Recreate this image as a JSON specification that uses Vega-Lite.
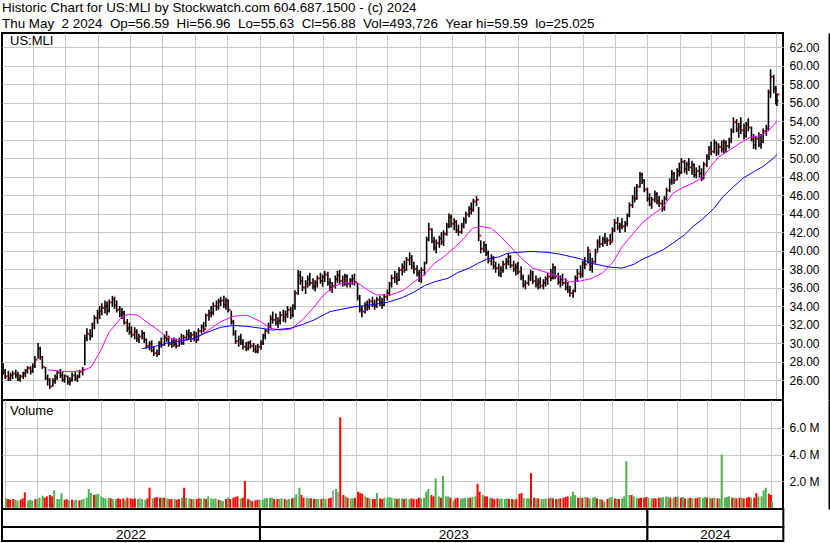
{
"$schema":"https://vega.github.io/schema/vega-lite/v6.json",
"background":"white",
"padding":{"left":0,"top":0,"right":0,"bottom":0},
"spacing":0,
"bounds":"flush",
"title":{"text":["Historic Chart for US:MLI by Stockwatch.com 604.687.1500 - (c) 2024","Thu May\u00a0\u00a02 2024\u00a0\u00a0Op=56.59\u00a0\u00a0Hi=56.96\u00a0\u00a0Lo=55.63\u00a0\u00a0Cl=56.88\u00a0\u00a0Vol=493,726\u00a0\u00a0Year hi=59.59\u00a0\u00a0lo=25.025"],"anchor":"start","frame":"bounds","font":"Liberation Sans","fontSize":13.4,"fontWeight":"normal","color":"black","lineHeight":15.7,"offset":2,"dx":2},
"datasets":{
"px":[
{"d":"2022-05-02","h":28.2,"l":26.8,"c":27.6,"v":0.7,"u":"g"},
{"d":"2022-05-04","h":27.8,"l":26.6,"c":26.9,"v":0.65,"u":"r"},
{"d":"2022-05-06","h":27.2,"l":26.1,"c":26.4,"v":0.6,"u":"r"},
{"d":"2022-05-09","h":27.0,"l":25.9,"c":26.2,"v":0.65,"u":"r"},
{"d":"2022-05-11","h":26.8,"l":25.9,"c":26.5,"v":0.6,"u":"g"},
{"d":"2022-05-13","h":27.0,"l":26.1,"c":26.7,"v":0.55,"u":"g"},
{"d":"2022-05-16","h":27.1,"l":26.2,"c":26.5,"v":0.6,"u":"r"},
{"d":"2022-05-18","h":26.9,"l":25.9,"c":26.1,"v":0.7,"u":"r"},
{"d":"2022-05-20","h":26.6,"l":25.8,"c":26.4,"v":1.15,"u":"r"},
{"d":"2022-05-23","h":26.9,"l":26.1,"c":26.7,"v":0.55,"u":"g"},
{"d":"2022-05-25","h":27.2,"l":26.3,"c":27.0,"v":0.6,"u":"g"},
{"d":"2022-05-27","h":27.5,"l":26.7,"c":27.3,"v":0.55,"u":"g"},
{"d":"2022-05-30","h":27.5,"l":26.6,"c":26.9,"v":0.65,"u":"r"},
{"d":"2022-06-01","h":27.8,"l":26.8,"c":27.5,"v":0.65,"u":"g"},
{"d":"2022-06-03","h":28.6,"l":27.3,"c":28.2,"v":0.75,"u":"g"},
{"d":"2022-06-06","h":30.0,"l":28.3,"c":29.4,"v":0.9,"u":"g"},
{"d":"2022-06-08","h":29.6,"l":28.2,"c":28.5,"v":0.75,"u":"r"},
{"d":"2022-06-10","h":28.6,"l":27.2,"c":27.4,"v":0.85,"u":"r"},
{"d":"2022-06-13","h":27.4,"l":26.0,"c":26.2,"v":0.95,"u":"r"},
{"d":"2022-06-15","h":26.6,"l":25.4,"c":26.0,"v":0.85,"u":"r"},
{"d":"2022-06-17","h":26.2,"l":25.03,"c":25.3,"v":1.3,"u":"g"},
{"d":"2022-06-20","h":26.2,"l":25.3,"c":25.9,"v":0.65,"u":"g"},
{"d":"2022-06-22","h":26.6,"l":25.6,"c":26.3,"v":0.65,"u":"g"},
{"d":"2022-06-24","h":27.0,"l":26.0,"c":26.8,"v":1.1,"u":"g"},
{"d":"2022-06-27","h":27.2,"l":26.2,"c":26.5,"v":0.6,"u":"r"},
{"d":"2022-06-29","h":26.9,"l":25.8,"c":26.0,"v":0.65,"u":"r"},
{"d":"2022-07-01","h":26.6,"l":25.7,"c":26.4,"v":0.55,"u":"g"},
{"d":"2022-07-04","h":26.5,"l":25.5,"c":25.8,"v":0.6,"u":"r"},
{"d":"2022-07-06","h":26.3,"l":25.4,"c":26.0,"v":0.55,"u":"n"},
{"d":"2022-07-08","h":26.8,"l":25.8,"c":26.5,"v":0.6,"u":"g"},
{"d":"2022-07-11","h":26.9,"l":25.9,"c":26.2,"v":0.55,"u":"r"},
{"d":"2022-07-13","h":26.6,"l":25.8,"c":26.4,"v":0.6,"u":"g"},
{"d":"2022-07-15","h":27.1,"l":26.2,"c":26.9,"v":0.65,"u":"g"},
{"d":"2022-07-18","h":27.4,"l":26.5,"c":27.1,"v":0.75,"u":"g"},
{"d":"2022-07-20","h":30.9,"l":27.6,"c":30.5,"v":1.4,"u":"g"},
{"d":"2022-07-22","h":31.6,"l":30.2,"c":31.0,"v":1.1,"u":"g"},
{"d":"2022-07-25","h":31.5,"l":30.3,"c":30.8,"v":0.95,"u":"r"},
{"d":"2022-07-27","h":32.2,"l":30.6,"c":31.9,"v":1.0,"u":"g"},
{"d":"2022-07-29","h":33.0,"l":31.5,"c":32.7,"v":1.05,"u":"g"},
{"d":"2022-08-01","h":33.6,"l":32.1,"c":33.2,"v":0.85,"u":"g"},
{"d":"2022-08-03","h":34.0,"l":32.6,"c":33.4,"v":0.75,"u":"g"},
{"d":"2022-08-05","h":34.3,"l":33.0,"c":33.8,"v":0.7,"u":"g"},
{"d":"2022-08-08","h":34.6,"l":33.2,"c":34.0,"v":0.75,"u":"g"},
{"d":"2022-08-10","h":34.5,"l":33.0,"c":33.5,"v":0.7,"u":"r"},
{"d":"2022-08-12","h":34.7,"l":33.3,"c":34.4,"v":0.65,"u":"g"},
{"d":"2022-08-15","h":35.1,"l":33.9,"c":34.7,"v":0.65,"u":"g"},
{"d":"2022-08-17","h":35.0,"l":33.7,"c":34.1,"v":0.7,"u":"r"},
{"d":"2022-08-19","h":34.6,"l":33.3,"c":33.6,"v":0.65,"u":"r"},
{"d":"2022-08-22","h":34.0,"l":32.8,"c":33.1,"v":0.7,"u":"r"},
{"d":"2022-08-24","h":33.8,"l":32.6,"c":33.3,"v":0.6,"u":"g"},
{"d":"2022-08-26","h":33.5,"l":32.0,"c":32.2,"v":0.75,"u":"r"},
{"d":"2022-08-29","h":32.6,"l":31.2,"c":31.6,"v":0.7,"u":"r"},
{"d":"2022-08-31","h":32.2,"l":30.9,"c":31.2,"v":0.65,"u":"r"},
{"d":"2022-09-02","h":31.8,"l":30.6,"c":30.9,"v":0.7,"u":"r"},
{"d":"2022-09-05","h":31.7,"l":30.4,"c":31.2,"v":0.65,"u":"g"},
{"d":"2022-09-07","h":31.5,"l":30.1,"c":30.4,"v":0.7,"u":"n"},
{"d":"2022-09-09","h":31.0,"l":30.0,"c":30.7,"v":0.65,"u":"g"},
{"d":"2022-09-12","h":31.4,"l":30.4,"c":31.1,"v":0.6,"u":"g"},
{"d":"2022-09-14","h":31.2,"l":30.0,"c":30.3,"v":0.7,"u":"r"},
{"d":"2022-09-16","h":30.5,"l":29.4,"c":29.7,"v":1.5,"u":"r"},
{"d":"2022-09-19","h":30.2,"l":29.2,"c":29.9,"v":0.7,"u":"g"},
{"d":"2022-09-21","h":30.3,"l":29.0,"c":29.2,"v":0.75,"u":"r"},
{"d":"2022-09-23","h":29.6,"l":28.6,"c":28.9,"v":0.8,"u":"r"},
{"d":"2022-09-26","h":29.3,"l":28.5,"c":28.8,"v":0.75,"u":"r"},
{"d":"2022-09-28","h":30.2,"l":28.7,"c":30.0,"v":0.75,"u":"g"},
{"d":"2022-09-30","h":30.6,"l":29.5,"c":29.8,"v":0.75,"u":"r"},
{"d":"2022-10-03","h":30.9,"l":29.7,"c":30.6,"v":0.7,"u":"g"},
{"d":"2022-10-05","h":31.3,"l":30.1,"c":30.4,"v":0.65,"u":"r"},
{"d":"2022-10-07","h":30.8,"l":29.6,"c":29.9,"v":0.65,"u":"r"},
{"d":"2022-10-10","h":30.4,"l":29.5,"c":30.1,"v":0.65,"u":"g"},
{"d":"2022-10-12","h":30.6,"l":29.6,"c":29.9,"v":0.6,"u":"r"},
{"d":"2022-10-14","h":30.5,"l":29.4,"c":29.7,"v":0.65,"u":"r"},
{"d":"2022-10-17","h":30.6,"l":29.6,"c":30.3,"v":0.75,"u":"g"},
{"d":"2022-10-19","h":31.0,"l":29.8,"c":30.0,"v":1.5,"u":"r"},
{"d":"2022-10-21","h":30.9,"l":29.8,"c":30.6,"v":0.75,"u":"g"},
{"d":"2022-10-24","h":31.4,"l":30.3,"c":31.0,"v":0.7,"u":"g"},
{"d":"2022-10-26","h":31.5,"l":30.4,"c":30.7,"v":0.65,"u":"r"},
{"d":"2022-10-28","h":31.2,"l":30.1,"c":30.9,"v":0.65,"u":"g"},
{"d":"2022-10-31","h":31.3,"l":30.2,"c":30.5,"v":0.65,"u":"r"},
{"d":"2022-11-02","h":31.2,"l":30.0,"c":30.3,"v":0.7,"u":"r"},
{"d":"2022-11-04","h":31.6,"l":30.3,"c":31.3,"v":0.7,"u":"g"},
{"d":"2022-11-07","h":32.0,"l":31.0,"c":31.8,"v":0.7,"u":"g"},
{"d":"2022-11-09","h":32.3,"l":31.2,"c":31.5,"v":0.65,"u":"r"},
{"d":"2022-11-11","h":33.2,"l":31.7,"c":33.0,"v":0.85,"u":"g"},
{"d":"2022-11-14","h":33.6,"l":32.4,"c":33.2,"v":0.7,"u":"g"},
{"d":"2022-11-16","h":34.0,"l":32.8,"c":33.3,"v":0.65,"u":"g"},
{"d":"2022-11-18","h":34.4,"l":33.0,"c":34.0,"v":0.7,"u":"g"},
{"d":"2022-11-21","h":34.6,"l":33.5,"c":33.9,"v":0.6,"u":"r"},
{"d":"2022-11-23","h":34.8,"l":33.6,"c":34.5,"v":0.55,"u":"g"},
{"d":"2022-11-25","h":35.0,"l":34.0,"c":34.6,"v":0.5,"u":"g"},
{"d":"2022-11-28","h":35.1,"l":33.8,"c":34.1,"v":0.65,"u":"r"},
{"d":"2022-11-30","h":34.9,"l":33.6,"c":34.6,"v":0.75,"u":"g"},
{"d":"2022-12-02","h":34.7,"l":33.3,"c":33.6,"v":0.65,"u":"r"},
{"d":"2022-12-05","h":33.5,"l":32.0,"c":32.3,"v":0.75,"u":"r"},
{"d":"2022-12-07","h":32.5,"l":30.8,"c":31.0,"v":0.8,"u":"r"},
{"d":"2022-12-09","h":31.4,"l":29.9,"c":30.2,"v":0.85,"u":"r"},
{"d":"2022-12-12","h":30.8,"l":29.6,"c":30.4,"v":0.7,"u":"g"},
{"d":"2022-12-14","h":31.0,"l":29.8,"c":30.0,"v":0.75,"u":"r"},
{"d":"2022-12-16","h":30.4,"l":29.3,"c":29.6,"v":2.0,"u":"r"},
{"d":"2022-12-19","h":30.1,"l":29.1,"c":29.4,"v":0.65,"u":"r"},
{"d":"2022-12-21","h":30.2,"l":29.2,"c":30.0,"v":0.6,"u":"g"},
{"d":"2022-12-23","h":30.3,"l":29.4,"c":29.7,"v":0.5,"u":"r"},
{"d":"2022-12-26","h":30.0,"l":29.0,"c":29.3,"v":0.55,"u":"r"},
{"d":"2022-12-28","h":29.8,"l":28.9,"c":29.1,"v":0.6,"u":"r"},
{"d":"2022-12-30","h":29.9,"l":28.9,"c":29.6,"v":0.6,"u":"g"},
{"d":"2023-01-02","h":30.3,"l":29.3,"c":30.0,"v":0.6,"u":"g"},
{"d":"2023-01-04","h":31.0,"l":29.8,"c":30.8,"v":0.7,"u":"g"},
{"d":"2023-01-06","h":31.5,"l":30.4,"c":31.3,"v":0.75,"u":"g"},
{"d":"2023-01-09","h":32.2,"l":31.0,"c":31.8,"v":0.75,"u":"g"},
{"d":"2023-01-11","h":33.0,"l":31.6,"c":32.6,"v":0.75,"u":"g"},
{"d":"2023-01-13","h":33.4,"l":32.1,"c":32.5,"v":0.65,"u":"r"},
{"d":"2023-01-16","h":33.2,"l":31.9,"c":32.2,"v":0.65,"u":"r"},
{"d":"2023-01-18","h":32.8,"l":31.6,"c":32.4,"v":0.65,"u":"g"},
{"d":"2023-01-20","h":33.4,"l":32.0,"c":33.0,"v":0.7,"u":"g"},
{"d":"2023-01-23","h":33.6,"l":32.3,"c":32.8,"v":0.65,"u":"r"},
{"d":"2023-01-25","h":33.5,"l":32.2,"c":33.1,"v":0.6,"u":"g"},
{"d":"2023-01-27","h":34.0,"l":32.7,"c":33.6,"v":0.65,"u":"g"},
{"d":"2023-01-30","h":33.9,"l":32.6,"c":33.0,"v":0.7,"u":"r"},
{"d":"2023-02-01","h":34.2,"l":32.8,"c":34.0,"v":0.75,"u":"g"},
{"d":"2023-02-03","h":35.7,"l":33.6,"c":35.4,"v":1.0,"u":"g"},
{"d":"2023-02-06","h":37.9,"l":35.2,"c":37.3,"v":1.5,"u":"g"},
{"d":"2023-02-08","h":37.8,"l":36.3,"c":36.7,"v":0.95,"u":"r"},
{"d":"2023-02-10","h":37.2,"l":35.6,"c":36.0,"v":0.75,"u":"r"},
{"d":"2023-02-13","h":36.8,"l":35.3,"c":36.4,"v":0.75,"u":"g"},
{"d":"2023-02-15","h":37.3,"l":36.0,"c":36.9,"v":0.7,"u":"g"},
{"d":"2023-02-17","h":37.6,"l":36.2,"c":36.5,"v":0.7,"u":"r"},
{"d":"2023-02-20","h":37.0,"l":35.8,"c":36.1,"v":0.65,"u":"r"},
{"d":"2023-02-22","h":36.8,"l":35.6,"c":36.5,"v":0.65,"u":"g"},
{"d":"2023-02-24","h":37.3,"l":36.0,"c":37.0,"v":0.65,"u":"g"},
{"d":"2023-02-27","h":37.6,"l":36.4,"c":36.7,"v":0.65,"u":"r"},
{"d":"2023-03-01","h":37.4,"l":36.1,"c":37.1,"v":0.7,"u":"g"},
{"d":"2023-03-03","h":37.8,"l":36.6,"c":37.4,"v":0.65,"u":"g"},
{"d":"2023-03-06","h":37.7,"l":36.2,"c":36.5,"v":0.7,"u":"r"},
{"d":"2023-03-08","h":37.0,"l":35.6,"c":36.0,"v":0.75,"u":"r"},
{"d":"2023-03-10","h":36.6,"l":35.4,"c":36.2,"v":1.3,"u":"n"},
{"d":"2023-03-13","h":37.3,"l":35.9,"c":36.9,"v":1.4,"u":"g"},
{"d":"2023-03-15","h":37.8,"l":36.5,"c":37.3,"v":1.2,"u":"n"},
{"d":"2023-03-17","h":37.9,"l":36.4,"c":36.7,"v":6.8,"u":"r"},
{"d":"2023-03-20","h":37.3,"l":36.1,"c":36.5,"v":0.95,"u":"r"},
{"d":"2023-03-22","h":37.5,"l":36.2,"c":37.2,"v":0.85,"u":"g"},
{"d":"2023-03-24","h":37.4,"l":36.0,"c":36.4,"v":0.75,"u":"r"},
{"d":"2023-03-27","h":37.0,"l":36.0,"c":36.8,"v":0.7,"u":"g"},
{"d":"2023-03-29","h":37.4,"l":36.3,"c":37.0,"v":0.7,"u":"g"},
{"d":"2023-03-31","h":37.5,"l":36.2,"c":36.6,"v":0.75,"u":"r"},
{"d":"2023-04-03","h":36.5,"l":34.6,"c":34.9,"v":1.2,"u":"r"},
{"d":"2023-04-05","h":35.2,"l":33.3,"c":33.6,"v":1.1,"u":"r"},
{"d":"2023-04-07","h":34.0,"l":32.8,"c":33.4,"v":1.05,"u":"r"},
{"d":"2023-04-10","h":34.4,"l":33.2,"c":34.1,"v":0.85,"u":"g"},
{"d":"2023-04-12","h":34.6,"l":33.5,"c":33.9,"v":0.75,"u":"r"},
{"d":"2023-04-14","h":34.8,"l":33.6,"c":34.5,"v":0.7,"u":"g"},
{"d":"2023-04-17","h":35.0,"l":33.9,"c":34.2,"v":0.65,"u":"r"},
{"d":"2023-04-19","h":34.7,"l":33.6,"c":34.0,"v":0.65,"u":"r"},
{"d":"2023-04-21","h":35.0,"l":33.8,"c":34.7,"v":1.1,"u":"g"},
{"d":"2023-04-24","h":35.1,"l":34.0,"c":34.4,"v":0.7,"u":"r"},
{"d":"2023-04-26","h":34.9,"l":33.7,"c":34.1,"v":0.65,"u":"r"},
{"d":"2023-04-28","h":35.3,"l":34.0,"c":35.0,"v":0.75,"u":"g"},
{"d":"2023-05-01","h":35.8,"l":34.6,"c":35.4,"v":0.75,"u":"g"},
{"d":"2023-05-03","h":36.6,"l":35.1,"c":36.3,"v":0.8,"u":"g"},
{"d":"2023-05-05","h":37.4,"l":36.0,"c":37.0,"v":0.75,"u":"g"},
{"d":"2023-05-08","h":37.8,"l":36.5,"c":37.1,"v":0.7,"u":"g"},
{"d":"2023-05-10","h":37.6,"l":36.3,"c":36.8,"v":0.65,"u":"r"},
{"d":"2023-05-12","h":38.2,"l":36.7,"c":37.9,"v":0.7,"u":"g"},
{"d":"2023-05-15","h":38.6,"l":37.3,"c":38.2,"v":0.7,"u":"g"},
{"d":"2023-05-17","h":38.9,"l":37.6,"c":37.9,"v":0.65,"u":"r"},
{"d":"2023-05-19","h":39.3,"l":37.8,"c":39.0,"v":0.7,"u":"g"},
{"d":"2023-05-22","h":39.8,"l":38.4,"c":39.2,"v":0.65,"u":"g"},
{"d":"2023-05-24","h":39.5,"l":38.0,"c":38.3,"v":0.7,"u":"r"},
{"d":"2023-05-26","h":38.8,"l":37.5,"c":38.0,"v":0.65,"u":"r"},
{"d":"2023-05-29","h":38.4,"l":37.2,"c":37.5,"v":0.65,"u":"r"},
{"d":"2023-05-31","h":37.9,"l":36.6,"c":37.0,"v":0.75,"u":"r"},
{"d":"2023-06-02","h":38.2,"l":36.5,"c":37.9,"v":0.7,"u":"g"},
{"d":"2023-06-05","h":38.8,"l":37.3,"c":38.6,"v":0.75,"u":"g"},
{"d":"2023-06-07","h":41.5,"l":38.6,"c":41.2,"v":1.2,"u":"g"},
{"d":"2023-06-09","h":43.0,"l":41.0,"c":42.3,"v":1.4,"u":"g"},
{"d":"2023-06-12","h":42.4,"l":40.8,"c":41.0,"v":0.95,"u":"r"},
{"d":"2023-06-14","h":41.5,"l":40.0,"c":40.3,"v":0.85,"u":"r"},
{"d":"2023-06-16","h":41.2,"l":39.7,"c":40.8,"v":2.2,"u":"g"},
{"d":"2023-06-19","h":41.6,"l":40.3,"c":41.3,"v":0.85,"u":"g"},
{"d":"2023-06-21","h":42.0,"l":40.6,"c":40.9,"v":0.75,"u":"r"},
{"d":"2023-06-23","h":42.2,"l":40.5,"c":41.8,"v":2.4,"u":"g"},
{"d":"2023-06-26","h":43.0,"l":41.6,"c":42.7,"v":0.85,"u":"g"},
{"d":"2023-06-28","h":44.0,"l":42.4,"c":43.6,"v":0.85,"u":"g"},
{"d":"2023-06-30","h":43.9,"l":42.5,"c":42.9,"v":0.75,"u":"r"},
{"d":"2023-07-03","h":43.5,"l":42.2,"c":43.1,"v":0.55,"u":"g"},
{"d":"2023-07-05","h":43.3,"l":41.9,"c":42.2,"v":0.7,"u":"r"},
{"d":"2023-07-07","h":42.8,"l":41.6,"c":42.0,"v":0.75,"u":"r"},
{"d":"2023-07-10","h":43.0,"l":41.8,"c":42.7,"v":0.7,"u":"g"},
{"d":"2023-07-12","h":43.6,"l":42.4,"c":43.3,"v":0.7,"u":"g"},
{"d":"2023-07-14","h":44.2,"l":42.9,"c":43.9,"v":0.75,"u":"g"},
{"d":"2023-07-17","h":44.8,"l":43.6,"c":44.5,"v":0.75,"u":"g"},
{"d":"2023-07-19","h":45.2,"l":43.9,"c":44.4,"v":0.75,"u":"r"},
{"d":"2023-07-21","h":45.6,"l":44.2,"c":45.3,"v":0.8,"u":"g"},
{"d":"2023-07-24","h":45.9,"l":44.8,"c":45.5,"v":0.85,"u":"g"},
{"d":"2023-07-26","h":44.7,"l":41.0,"c":41.6,"v":1.8,"u":"r"},
{"d":"2023-07-28","h":41.1,"l":39.7,"c":40.2,"v":1.2,"u":"r"},
{"d":"2023-07-31","h":41.0,"l":39.8,"c":40.6,"v":0.95,"u":"g"},
{"d":"2023-08-02","h":40.7,"l":39.4,"c":39.7,"v":0.85,"u":"r"},
{"d":"2023-08-04","h":40.0,"l":38.6,"c":38.9,"v":0.85,"u":"r"},
{"d":"2023-08-07","h":39.6,"l":38.4,"c":39.2,"v":0.75,"u":"g"},
{"d":"2023-08-09","h":39.4,"l":38.0,"c":38.3,"v":0.7,"u":"r"},
{"d":"2023-08-11","h":38.8,"l":37.6,"c":38.1,"v":0.65,"u":"r"},
{"d":"2023-08-14","h":38.6,"l":37.2,"c":37.5,"v":0.7,"u":"r"},
{"d":"2023-08-16","h":38.3,"l":37.1,"c":37.9,"v":0.65,"u":"g"},
{"d":"2023-08-18","h":38.9,"l":37.6,"c":38.5,"v":0.7,"u":"g"},
{"d":"2023-08-21","h":39.2,"l":38.0,"c":38.8,"v":0.65,"u":"g"},
{"d":"2023-08-23","h":39.7,"l":38.4,"c":39.3,"v":0.7,"u":"g"},
{"d":"2023-08-25","h":39.5,"l":38.1,"c":38.4,"v":0.65,"u":"r"},
{"d":"2023-08-28","h":38.9,"l":37.7,"c":38.0,"v":0.65,"u":"r"},
{"d":"2023-08-30","h":38.6,"l":37.3,"c":38.2,"v":0.6,"u":"g"},
{"d":"2023-09-01","h":38.8,"l":37.4,"c":37.7,"v":0.65,"u":"r"},
{"d":"2023-09-04","h":38.3,"l":36.8,"c":37.1,"v":1.05,"u":"r"},
{"d":"2023-09-06","h":37.4,"l":36.0,"c":36.3,"v":1.1,"u":"r"},
{"d":"2023-09-08","h":36.8,"l":35.8,"c":36.5,"v":0.75,"u":"g"},
{"d":"2023-09-11","h":37.4,"l":36.2,"c":37.0,"v":0.7,"u":"g"},
{"d":"2023-09-13","h":37.9,"l":36.7,"c":37.5,"v":0.7,"u":"g"},
{"d":"2023-09-15","h":37.8,"l":36.4,"c":36.7,"v":2.6,"u":"r"},
{"d":"2023-09-18","h":37.3,"l":36.0,"c":36.3,"v":0.75,"u":"r"},
{"d":"2023-09-20","h":37.0,"l":35.8,"c":36.6,"v":0.7,"u":"g"},
{"d":"2023-09-22","h":37.1,"l":35.9,"c":36.2,"v":0.7,"u":"r"},
{"d":"2023-09-25","h":36.9,"l":35.8,"c":36.5,"v":0.65,"u":"g"},
{"d":"2023-09-27","h":37.2,"l":36.1,"c":36.9,"v":0.65,"u":"g"},
{"d":"2023-09-29","h":37.6,"l":36.3,"c":37.2,"v":0.7,"u":"g"},
{"d":"2023-10-02","h":38.0,"l":36.7,"c":37.0,"v":0.7,"u":"r"},
{"d":"2023-10-04","h":38.6,"l":36.9,"c":38.2,"v":0.75,"u":"g"},
{"d":"2023-10-06","h":38.3,"l":36.9,"c":37.2,"v":0.7,"u":"r"},
{"d":"2023-10-09","h":37.6,"l":36.3,"c":36.6,"v":0.65,"u":"r"},
{"d":"2023-10-11","h":37.3,"l":36.0,"c":36.9,"v":0.65,"u":"g"},
{"d":"2023-10-13","h":37.5,"l":36.2,"c":36.5,"v":0.7,"u":"r"},
{"d":"2023-10-16","h":37.0,"l":35.7,"c":36.0,"v":0.75,"u":"r"},
{"d":"2023-10-18","h":36.6,"l":35.4,"c":35.7,"v":0.8,"u":"r"},
{"d":"2023-10-20","h":36.2,"l":35.0,"c":35.4,"v":0.85,"u":"r"},
{"d":"2023-10-23","h":35.8,"l":34.9,"c":35.6,"v":0.85,"u":"g"},
{"d":"2023-10-25","h":37.3,"l":35.5,"c":37.0,"v":1.2,"u":"g"},
{"d":"2023-10-27","h":38.0,"l":36.6,"c":37.5,"v":0.95,"u":"g"},
{"d":"2023-10-30","h":38.4,"l":37.0,"c":37.4,"v":0.75,"u":"r"},
{"d":"2023-11-01","h":38.9,"l":37.1,"c":38.6,"v":0.75,"u":"g"},
{"d":"2023-11-03","h":39.3,"l":38.0,"c":38.5,"v":0.75,"u":"r"},
{"d":"2023-11-06","h":40.4,"l":38.6,"c":40.0,"v":0.8,"u":"g"},
{"d":"2023-11-08","h":39.8,"l":37.8,"c":38.3,"v":0.75,"u":"r"},
{"d":"2023-11-10","h":39.2,"l":37.6,"c":38.8,"v":0.7,"u":"g"},
{"d":"2023-11-13","h":40.2,"l":38.6,"c":39.8,"v":0.75,"u":"g"},
{"d":"2023-11-15","h":41.2,"l":39.9,"c":40.9,"v":0.8,"u":"g"},
{"d":"2023-11-17","h":41.6,"l":40.3,"c":40.7,"v":0.7,"u":"r"},
{"d":"2023-11-20","h":41.5,"l":40.4,"c":41.2,"v":0.65,"u":"g"},
{"d":"2023-11-22","h":41.9,"l":40.7,"c":41.0,"v":0.6,"u":"r"},
{"d":"2023-11-24","h":41.4,"l":40.5,"c":41.1,"v":0.45,"u":"g"},
{"d":"2023-11-27","h":41.8,"l":40.6,"c":40.9,"v":0.65,"u":"r"},
{"d":"2023-11-29","h":42.5,"l":41.0,"c":42.2,"v":0.75,"u":"g"},
{"d":"2023-12-01","h":43.4,"l":42.0,"c":43.0,"v":0.8,"u":"g"},
{"d":"2023-12-04","h":43.6,"l":42.2,"c":42.5,"v":0.7,"u":"r"},
{"d":"2023-12-06","h":43.0,"l":41.9,"c":42.7,"v":0.65,"u":"g"},
{"d":"2023-12-08","h":43.5,"l":42.3,"c":42.6,"v":0.65,"u":"r"},
{"d":"2023-12-11","h":43.2,"l":42.0,"c":42.9,"v":0.7,"u":"g"},
{"d":"2023-12-13","h":44.0,"l":42.6,"c":43.8,"v":0.85,"u":"g"},
{"d":"2023-12-15","h":45.2,"l":43.6,"c":44.9,"v":3.5,"u":"g"},
{"d":"2023-12-18","h":46.0,"l":44.6,"c":45.7,"v":0.95,"u":"g"},
{"d":"2023-12-20","h":46.9,"l":45.2,"c":45.6,"v":0.95,"u":"r"},
{"d":"2023-12-22","h":47.2,"l":45.5,"c":46.9,"v":0.85,"u":"g"},
{"d":"2023-12-25","h":48.5,"l":46.8,"c":48.2,"v":0.75,"u":"g"},
{"d":"2023-12-27","h":48.4,"l":47.2,"c":47.6,"v":0.7,"u":"r"},
{"d":"2023-12-29","h":47.7,"l":46.3,"c":46.6,"v":0.75,"u":"r"},
{"d":"2024-01-01","h":46.8,"l":45.3,"c":45.6,"v":0.75,"u":"r"},
{"d":"2024-01-03","h":46.2,"l":44.8,"c":45.0,"v":0.8,"u":"r"},
{"d":"2024-01-05","h":45.8,"l":44.5,"c":45.5,"v":0.75,"u":"g"},
{"d":"2024-01-08","h":46.5,"l":45.2,"c":46.1,"v":0.7,"u":"g"},
{"d":"2024-01-10","h":46.3,"l":45.0,"c":45.3,"v":0.7,"u":"r"},
{"d":"2024-01-12","h":45.9,"l":44.7,"c":45.1,"v":0.7,"u":"r"},
{"d":"2024-01-15","h":45.5,"l":44.2,"c":44.6,"v":0.75,"u":"r"},
{"d":"2024-01-17","h":45.9,"l":44.3,"c":45.6,"v":0.75,"u":"g"},
{"d":"2024-01-19","h":46.8,"l":45.4,"c":46.5,"v":0.8,"u":"g"},
{"d":"2024-01-22","h":47.8,"l":46.3,"c":47.4,"v":0.85,"u":"g"},
{"d":"2024-01-24","h":48.7,"l":47.1,"c":48.3,"v":0.8,"u":"g"},
{"d":"2024-01-26","h":48.5,"l":47.2,"c":47.6,"v":0.75,"u":"r"},
{"d":"2024-01-29","h":48.9,"l":47.6,"c":48.6,"v":0.75,"u":"g"},
{"d":"2024-01-31","h":49.5,"l":48.0,"c":48.4,"v":0.8,"u":"r"},
{"d":"2024-02-02","h":50.0,"l":48.3,"c":49.6,"v":0.85,"u":"g"},
{"d":"2024-02-05","h":49.8,"l":48.4,"c":48.8,"v":0.75,"u":"r"},
{"d":"2024-02-07","h":49.6,"l":48.2,"c":49.3,"v":0.8,"u":"g"},
{"d":"2024-02-09","h":50.0,"l":48.6,"c":49.0,"v":0.7,"u":"r"},
{"d":"2024-02-12","h":49.7,"l":48.2,"c":49.3,"v":0.7,"u":"g"},
{"d":"2024-02-14","h":49.4,"l":47.9,"c":48.2,"v":0.75,"u":"r"},
{"d":"2024-02-16","h":49.0,"l":47.8,"c":48.6,"v":0.7,"u":"g"},
{"d":"2024-02-19","h":49.2,"l":47.9,"c":48.3,"v":0.7,"u":"r"},
{"d":"2024-02-21","h":48.9,"l":47.5,"c":47.8,"v":0.75,"u":"r"},
{"d":"2024-02-23","h":49.6,"l":47.7,"c":49.3,"v":0.8,"u":"g"},
{"d":"2024-02-26","h":50.4,"l":49.0,"c":50.1,"v":0.75,"u":"g"},
{"d":"2024-02-28","h":51.3,"l":49.8,"c":51.0,"v":0.8,"u":"g"},
{"d":"2024-03-01","h":51.8,"l":50.3,"c":50.7,"v":0.75,"u":"r"},
{"d":"2024-03-04","h":52.0,"l":50.5,"c":51.6,"v":0.75,"u":"g"},
{"d":"2024-03-06","h":51.8,"l":50.2,"c":50.6,"v":0.7,"u":"r"},
{"d":"2024-03-08","h":51.6,"l":50.3,"c":51.2,"v":0.75,"u":"g"},
{"d":"2024-03-11","h":51.9,"l":50.6,"c":51.0,"v":0.7,"u":"r"},
{"d":"2024-03-13","h":52.0,"l":50.5,"c":51.7,"v":0.7,"u":"g"},
{"d":"2024-03-15","h":51.9,"l":50.6,"c":51.3,"v":4.0,"u":"g"},
{"d":"2024-03-18","h":52.2,"l":51.0,"c":51.9,"v":0.75,"u":"g"},
{"d":"2024-03-20","h":53.2,"l":51.6,"c":52.9,"v":0.8,"u":"g"},
{"d":"2024-03-22","h":54.4,"l":52.7,"c":53.9,"v":0.85,"u":"g"},
{"d":"2024-03-25","h":54.2,"l":52.8,"c":53.1,"v":0.75,"u":"r"},
{"d":"2024-03-27","h":53.8,"l":52.2,"c":53.4,"v":0.75,"u":"g"},
{"d":"2024-03-29","h":54.4,"l":52.6,"c":53.0,"v":0.7,"u":"r"},
{"d":"2024-04-01","h":53.7,"l":52.0,"c":52.4,"v":0.75,"u":"r"},
{"d":"2024-04-03","h":53.9,"l":52.2,"c":53.6,"v":0.75,"u":"g"},
{"d":"2024-04-05","h":54.3,"l":52.9,"c":53.3,"v":0.7,"u":"r"},
{"d":"2024-04-08","h":53.4,"l":51.8,"c":52.0,"v":0.75,"u":"r"},
{"d":"2024-04-10","h":52.6,"l":51.0,"c":51.4,"v":0.8,"u":"r"},
{"d":"2024-04-12","h":52.4,"l":50.9,"c":52.1,"v":0.75,"u":"g"},
{"d":"2024-04-15","h":52.8,"l":51.2,"c":51.5,"v":0.75,"u":"r"},
{"d":"2024-04-17","h":52.6,"l":51.0,"c":51.8,"v":1.1,"u":"r"},
{"d":"2024-04-19","h":53.2,"l":51.6,"c":52.9,"v":0.85,"u":"g"},
{"d":"2024-04-22","h":53.6,"l":52.4,"c":53.2,"v":0.85,"u":"g"},
{"d":"2024-04-24","h":57.4,"l":53.0,"c":57.1,"v":1.3,"u":"g"},
{"d":"2024-04-26","h":59.59,"l":56.5,"c":58.8,"v":1.5,"u":"g"},
{"d":"2024-04-29","h":59.0,"l":57.0,"c":57.5,"v":1.05,"u":"r"},
{"d":"2024-05-01","h":57.8,"l":55.8,"c":56.2,"v":0.95,"u":"r"},
{"d":"2024-05-02","h":56.96,"l":55.63,"c":56.88,"v":0.49,"u":"g"}
],
"m1":[
{"d":"2022-06-15","m":27.1},{"d":"2022-06-24","m":27.0},{"d":"2022-07-05","m":26.9},{"d":"2022-07-18","m":27.0},{"d":"2022-07-26","m":27.4},{"d":"2022-08-04","m":29.2},{"d":"2022-08-12","m":31.2},{"d":"2022-08-23","m":32.7},{"d":"2022-08-30","m":33.1},{"d":"2022-09-08","m":33.0},{"d":"2022-09-16","m":32.3},{"d":"2022-09-27","m":31.4},{"d":"2022-10-06","m":30.6},{"d":"2022-10-18","m":30.3},{"d":"2022-10-31","m":30.4},{"d":"2022-11-11","m":31.2},{"d":"2022-11-25","m":32.3},{"d":"2022-12-07","m":32.9},{"d":"2022-12-20","m":33.0},{"d":"2023-01-02","m":32.3},{"d":"2023-01-11","m":31.6},{"d":"2023-01-20","m":31.4},{"d":"2023-01-30","m":31.5},{"d":"2023-02-10","m":32.5},{"d":"2023-02-21","m":33.9},{"d":"2023-03-02","m":35.2},{"d":"2023-03-13","m":36.2},{"d":"2023-03-21","m":36.5},{"d":"2023-04-03","m":36.5},{"d":"2023-04-13","m":35.7},{"d":"2023-04-21","m":35.2},{"d":"2023-05-04","m":35.2},{"d":"2023-05-16","m":35.7},{"d":"2023-05-26","m":36.6},{"d":"2023-06-05","m":37.4},{"d":"2023-06-14","m":38.6},{"d":"2023-06-23","m":39.3},{"d":"2023-07-03","m":40.3},{"d":"2023-07-12","m":41.3},{"d":"2023-07-20","m":42.4},{"d":"2023-07-28","m":42.6},{"d":"2023-08-07","m":42.4},{"d":"2023-08-16","m":41.5},{"d":"2023-08-25","m":40.4},{"d":"2023-09-04","m":39.2},{"d":"2023-09-15","m":38.1},{"d":"2023-09-29","m":37.6},{"d":"2023-10-11","m":37.1},{"d":"2023-10-20","m":36.6},{"d":"2023-10-30","m":36.7},{"d":"2023-11-10","m":37.0},{"d":"2023-11-20","m":37.6},{"d":"2023-11-30","m":38.8},{"d":"2023-12-08","m":40.4},{"d":"2023-12-19","m":41.9},{"d":"2023-12-28","m":43.1},{"d":"2024-01-05","m":43.8},{"d":"2024-01-16","m":44.7},{"d":"2024-01-25","m":46.2},{"d":"2024-02-05","m":46.9},{"d":"2024-02-13","m":47.3},{"d":"2024-02-22","m":47.9},{"d":"2024-02-29","m":49.0},{"d":"2024-03-08","m":50.1},{"d":"2024-03-19","m":50.9},{"d":"2024-03-28","m":51.6},{"d":"2024-04-08","m":52.3},{"d":"2024-04-16","m":52.4},{"d":"2024-04-23","m":52.8},{"d":"2024-04-29","m":53.6},{"d":"2024-05-02","m":54.0}
],
"m2":[
{"d":"2022-09-12","m":29.4},{"d":"2022-09-23","m":29.6},{"d":"2022-10-06","m":30.0},{"d":"2022-10-18","m":30.2},{"d":"2022-10-31","m":30.5},{"d":"2022-11-11","m":31.1},{"d":"2022-11-25","m":31.7},{"d":"2022-12-07","m":31.9},{"d":"2022-12-20","m":31.8},{"d":"2023-01-02","m":31.6},{"d":"2023-01-13","m":31.4},{"d":"2023-01-30","m":31.6},{"d":"2023-02-10","m":32.0},{"d":"2023-02-21","m":32.5},{"d":"2023-03-08","m":33.4},{"d":"2023-03-30","m":33.9},{"d":"2023-04-14","m":34.1},{"d":"2023-05-01","m":34.4},{"d":"2023-05-15","m":34.9},{"d":"2023-05-26","m":35.5},{"d":"2023-06-05","m":36.2},{"d":"2023-06-14","m":36.6},{"d":"2023-06-27","m":37.0},{"d":"2023-07-06","m":37.6},{"d":"2023-07-17","m":38.1},{"d":"2023-07-25","m":38.6},{"d":"2023-08-03","m":39.1},{"d":"2023-08-14","m":39.3},{"d":"2023-08-22","m":39.7},{"d":"2023-09-01","m":39.8},{"d":"2023-09-13","m":39.9},{"d":"2023-09-29","m":39.8},{"d":"2023-10-11","m":39.6},{"d":"2023-10-30","m":39.1},{"d":"2023-11-10","m":38.6},{"d":"2023-11-27","m":38.2},{"d":"2023-12-08","m":38.1},{"d":"2023-12-19","m":38.5},{"d":"2023-12-28","m":39.1},{"d":"2024-01-05","m":39.5},{"d":"2024-01-16","m":40.1},{"d":"2024-01-25","m":40.8},{"d":"2024-02-05","m":41.7},{"d":"2024-02-13","m":42.6},{"d":"2024-02-22","m":43.4},{"d":"2024-03-04","m":44.6},{"d":"2024-03-12","m":45.8},{"d":"2024-03-22","m":46.9},{"d":"2024-04-01","m":47.9},{"d":"2024-04-10","m":48.5},{"d":"2024-04-19","m":49.1},{"d":"2024-04-29","m":50.0},{"d":"2024-05-02","m":50.4}
],
"yrs":[
{"yr":"2022","d":"2022-05-03"},{"yr":"2022","d":"2023-01-01"},{"yr":"2023","d":"2023-01-01"},{"yr":"2023","d":"2024-01-01"},{"yr":"2024","d":"2024-01-01"},{"yr":"2024","d":"2024-05-08"}
]
},
"vconcat":[
{
"width":781,"height":367,
"title":{"text":"US:MLI","anchor":"start","frame":"group","offset":-15,"dx":8,"font":"Liberation Sans","fontSize":13,"fontWeight":"normal","color":"black"},
"encoding":{
"x":{"field":"d","type":"temporal","scale":{"domain":[{"year":2022,"month":5,"date":3,"utc":true},{"year":2024,"month":5,"date":7,"hours":17,"utc":true}],"nice":false},"axis":{"orient":"bottom","labels":false,"ticks":false,"domain":false,"grid":true,"title":null,"tickCount":{"interval":"month","step":1},"minExtent":0,"maxExtent":0}}
},
"layer":[
{"data":{"name":"px"},"mark":{"type":"square","color":"#FF0000","size":4,"opacity":1,"xOffset":1.5,"clip":true},
"encoding":{
"y":{"field":"c","type":"quantitative","scale":{"domain":[23.84,63.52],"nice":false,"zero":false},"axis":{"orient":"right","values":[26,28,30,32,34,36,38,40,42,44,46,48,50,52,54,56,58,60,62],"tickCount":40,"format":".2f","labelOverlap":false,"labelFlush":false,"ticks":false,"grid":true,"domain":true,"domainColor":"black","domainWidth":2,"offset":46,"labelPadding":-40,"title":null}}}},
{"data":{"name":"px"},"mark":{"type":"rule","color":"black","strokeWidth":1.6,"clip":true},
"encoding":{"y":{"field":"l","type":"quantitative"},"y2":{"field":"h"}}},
{"data":{"name":"m1"},"mark":{"type":"line","color":"#FF00FF","strokeWidth":1},
"encoding":{"y":{"field":"m","type":"quantitative"}}},
{"data":{"name":"m2"},"mark":{"type":"line","color":"#0000FF","strokeWidth":1},
"encoding":{"y":{"field":"m","type":"quantitative"}}}
]
},
{
"width":781,"height":109,
"title":{"text":"Volume","anchor":"start","frame":"group","offset":-18,"dx":8,"font":"Liberation Sans","fontSize":13,"fontWeight":"normal","color":"black"},
"data":{"name":"px"},
"mark":{"type":"bar","size":2,"clip":true},
"encoding":{
"x":{"field":"d","type":"temporal","scale":{"domain":[{"year":2022,"month":5,"date":3,"utc":true},{"year":2024,"month":5,"date":7,"hours":17,"utc":true}],"nice":false},"axis":{"orient":"bottom","labels":false,"ticks":false,"domain":false,"grid":true,"title":null,"tickCount":{"interval":"month","step":1},"minExtent":0,"maxExtent":0}},
"y":{"field":"v","type":"quantitative","scale":{"domain":[-0.1,8.1],"nice":false,"zero":false},"axis":{"orient":"right","values":[2,4,6],"tickCount":10,"labelExpr":"format(datum.value,'.1f') + ' M'","labelOverlap":false,"labelFlush":false,"ticks":false,"grid":true,"domain":true,"domainColor":"black","domainWidth":2,"offset":46,"labelPadding":-40,"title":null}},
"y2":{"datum":0},
"color":{"field":"u","type":"nominal","scale":{"domain":["g","r","n"],"range":["#4CB04C","#FF0000","#A0A0A0"]},"legend":null}
}
},
{
"width":781,"height":18,
"data":{"name":"yrs"},
"mark":{"type":"rect","fill":"white","stroke":"black","strokeWidth":2},
"encoding":{
"x":{"aggregate":"min","field":"d","type":"temporal","scale":{"domain":[{"year":2022,"month":5,"date":3,"utc":true},{"year":2024,"month":5,"date":7,"hours":17,"utc":true}],"nice":false},"axis":null},
"x2":{"aggregate":"max","field":"d"},
"detail":{"field":"yr","type":"nominal"}
}
},
{
"width":781,"height":14,
"data":{"name":"yrs"},
"layer":[
{"mark":{"type":"rect","fill":"white","stroke":"black","strokeWidth":2},
"encoding":{
"x":{"aggregate":"min","field":"d","type":"temporal","scale":{"domain":[{"year":2022,"month":5,"date":3,"utc":true},{"year":2024,"month":5,"date":7,"hours":17,"utc":true}],"nice":false},"axis":null},
"x2":{"aggregate":"max","field":"d"},
"detail":{"field":"yr","type":"nominal"}}},
{"mark":{"type":"text","font":"Liberation Sans","fontSize":13.5,"color":"black","baseline":"middle","dy":1},
"encoding":{
"x":{"aggregate":"mean","field":"d","type":"temporal"},
"text":{"field":"yr","type":"nominal"}}}
]
}
],
"config":{
"view":{"stroke":"black","strokeWidth":2},
"axis":{"labelFont":"Liberation Sans","labelFontSize":12,"labelColor":"black","gridColor":"#C8C8C8","gridWidth":1,"gridOpacity":1,"labelOverlap":false}
}
}
